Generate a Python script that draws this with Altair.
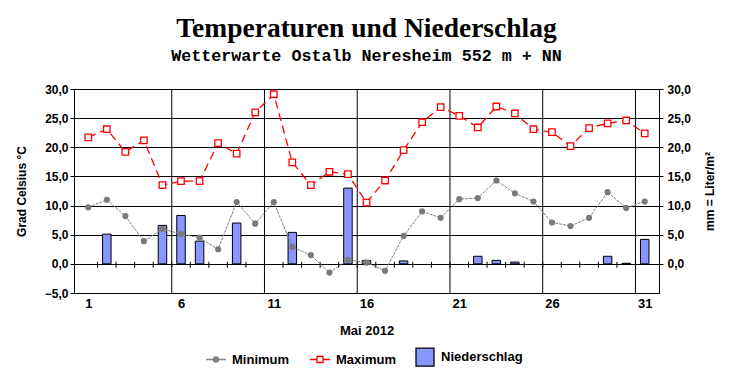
import altair as alt
import pandas as pd

# ---------------- data ----------------
days = list(range(1, 32))
t_min = [9.7, 11.0, 8.2, 3.9, 6.0, 5.1, 4.5, 2.5, 10.6, 6.9,
         10.6, 2.9, 1.5, -1.5, 0.7, 0.2, -1.2, 4.8, 9.0, 7.9,
         11.1, 11.3, 14.3, 12.1, 10.7, 7.1, 6.5, 7.9, 12.3, 9.6, 10.7]
t_max = [21.7, 23.1, 19.2, 21.2, 13.5, 14.2, 14.2, 20.7, 18.9, 26.0,
         29.1, 17.4, 13.5, 15.8, 15.4, 10.5, 14.3, 19.5, 24.3, 26.9,
         25.4, 23.4, 27.0, 25.8, 23.1, 22.6, 20.2, 23.3, 24.1, 24.6, 22.4]
precip = [0, 5.1, 0, 0, 6.6, 8.3, 3.9, 0, 7.0, 0,
          0, 5.4, 0, 0, 13.0, 0.6, 0, 0.5, 0, 0,
          0, 1.3, 0.6, 0.3, 0, 0, 0, 0, 1.3, 0.1, 4.2]
x_labels = [1, 6, 11, 16, 21, 26, 31]
y_ticks = [-5, 0, 5, 10, 15, 20, 25, 30]
y_ticks_right = [0, 5, 10, 15, 20, 25, 30]
grid_days = [5.5, 10.5, 15.5, 20.5, 25.5, 30.5]
minor_days = [d + 0.5 for d in range(1, 31)]
series_names = ["Minimum", "Maximum", "Niederschlag"]

df = pd.DataFrame({"day": days, "tmin": t_min, "tmax": t_max, "precip": precip})

FONT = "Liberation Sans"
BAR_FILL = "#8896ff"
comma = "replace(format(datum.value, '.1f'), '.', ',')"

x_scale = alt.Scale(domain=[0.5, 31.5], nice=False, zero=False)
y_scale = alt.Scale(domain=[-5, 30], nice=False, zero=False)

x_axis = alt.Axis(values=x_labels, title="Mai 2012", grid=False, ticks=False, tickSize=0,
                  labelFont=FONT, labelFontSize=13, labelFontWeight="bold", labelColor="black",
                  labelPadding=4, labelAngle=0, format="d",
                  titleFont=FONT, titleFontSize=13, titleFontWeight="bold", titleColor="black",
                  titlePadding=14, domainColor="black", domainWidth=1)

y_axis_left = alt.Axis(orient="left", values=y_ticks, labelExpr=comma, grid=True,
                       gridColor="black", gridOpacity=1, gridWidth=1,
                       tickSize=4, tickColor="black", tickWidth=1,
                       domainColor="black", domainWidth=1,
                       labelFont=FONT, labelFontSize=12, labelFontWeight="bold", labelColor="black",
                       labelPadding=2,
                       title="Grad Celsius °C", titleFont=FONT, titleFontSize=12,
                       titleFontWeight="bold", titleColor="black", titlePadding=16)

y_axis_right = alt.Axis(orient="right", values=y_ticks_right, labelExpr=comma, grid=False,
                        tickSize=4, tickColor="black", tickWidth=1,
                        domainColor="black", domainWidth=1,
                        labelFont=FONT, labelFontSize=12, labelFontWeight="bold", labelColor="black",
                        labelPadding=4,
                        title="mm = Liter/m²", titleFont=FONT, titleFontSize=12,
                        titleFontWeight="bold", titleColor="black", titlePadding=26, titleAngle=270)

X = alt.X("day:Q", scale=x_scale, axis=x_axis)

base = alt.Chart(df)

vgrid = alt.Chart(pd.DataFrame({"b": grid_days})).mark_rule(color="black", strokeWidth=1).encode(
    x=alt.X("b:Q", scale=x_scale, axis=x_axis))

minor = alt.Chart(pd.DataFrame({"b": minor_days})).mark_tick(
    orient="vertical", size=6, thickness=1, color="black", yOffset=1, opacity=1).encode(
    x=alt.X("b:Q", scale=x_scale, axis=x_axis),
    y=alt.YDatum(0, type="quantitative", scale=y_scale, axis=y_axis_left))

min_line = base.mark_line(color="#808080", strokeWidth=1, strokeDash=[3, 1]).encode(
    x=X, y=alt.Y("tmin:Q", scale=y_scale, axis=y_axis_left))
min_pts = base.mark_point(shape="circle", filled=True, color="#7a7a7a", size=38, opacity=1).encode(
    x=X, y=alt.Y("tmin:Q", scale=y_scale, axis=y_axis_left))
max_line = base.mark_line(color="#ff0000", strokeWidth=1.3, strokeDash=[8, 5]).encode(
    x=X, y=alt.Y("tmax:Q", scale=y_scale, axis=y_axis_left))
max_pts = base.mark_point(shape="square", filled=True, fill="white", stroke="#ff0000",
                          strokeWidth=1.3, size=42, opacity=1).encode(
    x=X, y=alt.Y("tmax:Q", scale=y_scale, axis=y_axis_left))

p_min = "M-1,0H1M0.25,0A0.25,0.25,0,1,1,-0.25,0A0.25,0.25,0,1,1,0.25,0Z"
p_max = "M-1,0H-0.3M0.3,0H1M-0.3,-0.3H0.3V0.3H-0.3Z"
p_bar = "M-0.9,-0.9H0.9V0.9H-0.9Z"
leg = alt.Legend(title=None, orient="none", legendX=131, legendY=257, direction="horizontal")
legend_layer = alt.Chart(pd.DataFrame({"series": series_names})).transform_filter("false").mark_point(
    filled=True, opacity=1).encode(
    shape=alt.Shape("series:N", scale=alt.Scale(domain=series_names, range=[p_min, p_max, p_bar]), legend=leg),
    fill=alt.Fill("series:N", scale=alt.Scale(domain=series_names, range=["#808080", "#ffffff", BAR_FILL]), legend=leg),
    stroke=alt.Stroke("series:N", scale=alt.Scale(domain=series_names, range=["#808080", "#ff0000", "#000000"]), legend=leg),
)

temp_layer = alt.layer(vgrid, minor, min_line, max_line, min_pts, max_pts, legend_layer)

bars = base.transform_filter("datum.precip > 0").mark_bar(
    size=8.5, fill=BAR_FILL, stroke="black", strokeWidth=1, orient="vertical").encode(
    x=X,
    y=alt.Y("precip:Q", scale=y_scale, axis=y_axis_right, stack=None),
    y2=alt.Y2Datum(0))

chart = alt.layer(bars, temp_layer).resolve_scale(y="independent").properties(
    width=585, height=204,
    autosize=alt.AutoSizeParams(type="none"),
    padding={"left": 66, "top": 81, "right": 65, "bottom": 79},
    background="white",
    title=alt.TitleParams(
        text="Temperaturen und Niederschlag",
        subtitle="Wetterwarte Ostalb Neresheim 552 m + NN",
        font="Liberation Serif", fontSize=27.5, fontWeight="bold", color="black",
        subtitleFont="Liberation Mono", subtitleFontSize=16.7, subtitleFontWeight="bold",
        subtitleColor="black", subtitlePadding=6, anchor="middle", offset=18,
    ),
).configure_view(stroke="black", strokeWidth=1).configure_legend(
    labelFont=FONT, labelFontSize=13, labelFontWeight="bold", labelColor="black",
    symbolSize=400, symbolStrokeWidth=1.3, labelOffset=5, columnPadding=17,
)

chart.save("out.html", embed_options={"renderer": "svg", "actions": False})
